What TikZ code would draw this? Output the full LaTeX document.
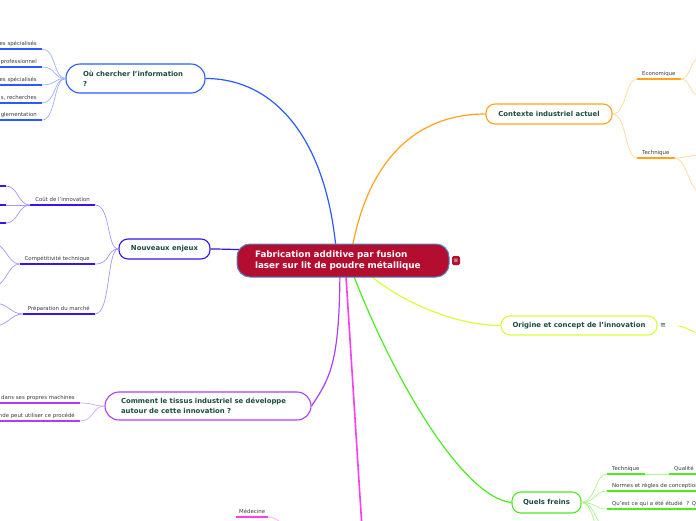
\documentclass[tikz,border=0pt]{standalone}
\usepackage{fontspec}
\setmainfont{DejaVu Sans}
\usetikzlibrary{backgrounds}

\definecolor{centerred}{HTML}{B30D30}
\definecolor{centerrim}{HTML}{4D86C6}
\definecolor{nodetext}{HTML}{1A4D3E}
\definecolor{subtext}{HTML}{3C3C3C}
\definecolor{infoblue}{HTML}{2B5BFF}
\definecolor{infolight}{HTML}{9DB5FF}
\definecolor{enjeuxblue}{HTML}{3A12EC}
\definecolor{enjeuxlight}{HTML}{A596FF}
\definecolor{tissuviolet}{HTML}{AA40FA}
\definecolor{tissulight}{HTML}{D7A8F8}
\definecolor{medmagenta}{HTML}{FF3CEE}
\definecolor{ctxorange}{HTML}{FFA31A}
\definecolor{ctxlight}{HTML}{FFD79A}
\definecolor{orilime}{HTML}{D8FF3A}
\definecolor{freingreen}{HTML}{4CEC22}
\definecolor{freinlight}{HTML}{A6F78F}

\begin{document}
\begin{tikzpicture}[x=1pt, y=-1pt,
    topic/.style={draw, line width=1.1pt, rounded corners=9pt, fill=white, text=nodetext, inner sep=0pt, font=\fontsize{6.9}{10}\selectfont\bfseries},
    sub/.style={text=subtext, inner xsep=5pt, inner ysep=2pt, text height=4pt, text depth=1.5pt, font=\fontsize{5.4}{6}\selectfont},
    main/.style={line width=1.2pt},
    twig/.style={line width=0.7pt},
    uline/.style={line width=1.8pt},
]
\useasboundingbox (0,0) rectangle (696,520);

% central topic
\node[draw=centerrim, fill=centerred, line width=1pt, rounded corners=13pt, minimum width=212pt, minimum height=33pt, text width=176pt, align=left, text=white, font=\fontsize{8.8}{11}\selectfont\bfseries] (center) at (343,260.5) {Fabrication additive par fusion\\laser sur lit de poudre métallique};
\node[fill=centerred, rounded corners=1.5pt, minimum width=8pt, minimum height=9pt, inner sep=0pt, text=white, font=\fontsize{6}{6}\selectfont] (notes) at (456,260.5) {≡};

% main topics
\node[topic, draw=infoblue, minimum width=139pt, minimum height=29pt, rounded corners=14pt, text width=105pt, align=left] (info) at (135.5,78.5) {Où chercher l'information\\?};
\node[topic, draw=enjeuxblue, minimum width=91pt, minimum height=20pt] (enjeux) at (164.5,249) {Nouveaux enjeux};
\node[topic, draw=tissuviolet, minimum width=206pt, minimum height=28pt, rounded corners=14pt, text width=174pt, align=left] (tissus) at (208,406) {Comment le tissus industriel se développe\\autour de cette innovation ?};
\node[topic, draw=ctxorange, minimum width=126pt, minimum height=20pt] (contexte) at (549,114) {Contexte industriel actuel};
\node[topic, draw=orilime, minimum width=156pt, minimum height=19pt] (origine) at (579,325.5) {Origine et concept de l'innovation};
\node[text=nodetext, inner sep=1pt, font=\fontsize{7}{7}\selectfont] (orinotes) at (663,326) {≡};
\node[topic, draw=freingreen, minimum width=69pt, minimum height=21pt] (freins) at (546.5,502.5) {Quels freins};

% links from the central topic
\begin{scope}[on background layer]
\fill[white] (0,0) rectangle (696,520);
\coordinate (medroot) at (364,560);
\draw[main, infoblue] ([xshift=-6pt]center.center) .. controls +(-8,-120) and +(70,0) .. (info.east);
\draw[main, enjeuxblue] ([shift={(-40pt,10pt)}]center.center) .. controls +(-50,0) and +(20,0) .. (enjeux.east);
\draw[main, tissuviolet] ([xshift=-3pt]center.center) .. controls +(0,100) and +(20,-30) .. (tissus.east);
\draw[main, medmagenta, line width=1.6pt] ([xshift=2pt]center.center) -- (medroot);
\draw[main, freingreen] ([xshift=5pt]center.center) .. controls +(40,110) and +(-50,-5) .. (freins.west);
\draw[main, orilime] ([xshift=12pt]center.center) .. controls +(30,35) and +(-50,0) .. (origine.west);
\draw[main, ctxorange] ([xshift=7pt]center.center) .. controls +(15,-100) and +(-70,0) .. (contexte.west);
\end{scope}

% Où chercher l'information
\node[sub, anchor=south east] (ia) at (42,49) {es spécialisés};
\node[sub, anchor=south east] (ib) at (42,67) {professionnel};
\node[sub, anchor=south east] (ic) at (42,85) {es spécialisés};
\node[sub, anchor=south east] (id) at (42,103) {s, recherches};
\node[sub, anchor=south east] (ie) at (42,120) {glementation};
\foreach \s in {ia,ib,ic,id,ie} {
  \draw[uline, infoblue] (\s.south west) -- (\s.south east);
  \draw[twig, infolight] (\s.south east) .. controls +(14,0) and +(-12,0) .. (info.west);
}

% Nouveaux enjeux
\node[sub, anchor=south east] (cout) at (95,205) {Coût de l'innovation};
\node[sub, anchor=south east] (compet) at (95,264) {Compétitivité technique};
\node[sub, anchor=south east] (prep) at (95,314) {Préparation du marché};
\foreach \s in {cout,compet,prep} {
  \draw[uline, enjeuxblue] (\s.south west) -- (\s.south east);
  \draw[twig, enjeuxlight] (\s.south east) .. controls +(16,0) and +(-12,0) .. (enjeux.west);
}
\coordinate (ca) at (6,186);
\coordinate (cb) at (6,205);
\coordinate (cc) at (6,223);
\foreach \s in {ca,cb,cc} {
  \draw[uline, enjeuxblue] (\s) -- +(-20,0);
  \draw[twig, enjeuxlight] (\s) .. controls +(12,0) and +(-12,0) .. (cout.south west);
}
\coordinate (pa) at (-8,243);
\coordinate (pb) at (-8,287);
\coordinate (pc) at (-6,303);
\coordinate (pd) at (-6,326);
\foreach \s in {pa,pb} \draw[twig, enjeuxlight] (\s) .. controls +(14,0) and +(-12,0) .. (compet.south west);
\foreach \s in {pc,pd} \draw[twig, enjeuxlight] (\s) .. controls +(14,0) and +(-12,0) .. (prep.south west);

% Comment le tissus industriel ...
\node[sub, anchor=south east] (ta) at (80,403) {dans ses propres machines};
\node[sub, anchor=south east] (tb) at (80,421) {nde peut utiliser ce procédé};
\foreach \s in {ta,tb} {
  \draw[uline, tissuviolet] (\s.south west) -- (\s.south east);
  \draw[twig, tissulight] (\s.south east) .. controls +(14,0) and +(-12,0) .. (tissus.west);
}

% Médecine
\node[sub, anchor=south west, inner xsep=3pt] (med) at (236,517) {Médecine};
\coordinate (medlink) at (292,534);
\draw[uline, medmagenta] (med.south west) -- (med.south east);
\draw[twig, medmagenta!45] (med.south east) .. controls +(8,0) and +(-6,-8) .. (medlink);

% Contexte industriel actuel
\node[sub, anchor=south west] (eco) at (637,79) {Economique};
\node[sub, anchor=south west] (tech) at (637,158) {Technique};
\foreach \s in {eco,tech} {
  \draw[uline, ctxorange] (\s.south west) -- (\s.south east);
  \draw[twig, ctxlight] (contexte.east) .. controls +(14,0) and +(-12,0) .. (\s.south west);
}
\coordinate (ecoa) at (700,58);
\coordinate (ecob) at (700,96);
\coordinate (teca) at (700,155);
\coordinate (tecb) at (700,192);
\foreach \s in {ecoa,ecob} \draw[twig, ctxlight] (eco.south east) .. controls +(10,0) and +(-10,0) .. (\s);
\foreach \s in {teca,tecb} \draw[twig, ctxlight] (tech.south east) .. controls +(12,0) and +(-10,0) .. (\s);

% Origine et concept
\coordinate (oria) at (678,326);
\coordinate (orib) at (700,333);
\draw[twig, orilime, line width=1pt] (oria) .. controls +(8,0) and +(-8,0) .. (orib);

% Quels freins
\node[sub, anchor=south west] (ft) at (607,474) {Technique};
\node[sub, anchor=south west, text width=40pt] (fq) at (669,474) {Qualité};
\node[sub, anchor=south west, text width=100pt] (fn) at (607,491) {Normes et règles de conception};
\node[sub, anchor=south west, text width=100pt] (fe) at (607,509) {Qu'est ce qui a été étudié ~? Q};
\foreach \s in {ft,fq,fn,fe} \draw[uline, freingreen] (\s.south west) -- (\s.south east);
\draw[twig, freinlight] (ft.south east) -- (fq.south west);
\foreach \s in {ft,fn,fe} \draw[twig, freinlight] (freins.east) .. controls +(14,0) and +(-12,0) .. (\s.south west);
\coordinate (fda) at (607,527);
\coordinate (fdb) at (607,545);
\foreach \s in {fda,fdb} \draw[twig, freinlight] (freins.east) .. controls +(14,0) and +(-12,0) .. (\s);
\end{tikzpicture}
\end{document}
